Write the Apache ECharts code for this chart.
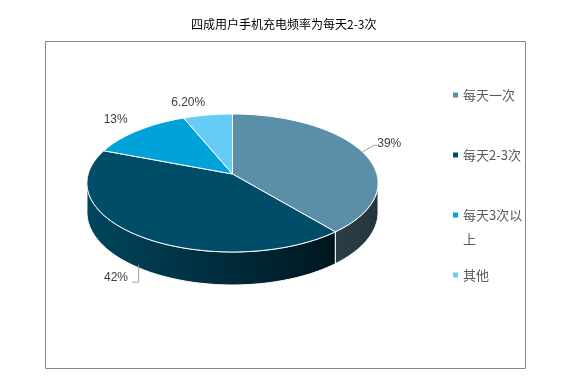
<!DOCTYPE html>
<html><head><meta charset="utf-8">
<script src="https://cdn.jsdelivr.net/npm/echarts@6/dist/echarts.min.js"></script>
<style>html,body{margin:0;padding:0;background:#fff}#c{width:578px;height:384px}</style>
</head><body><div id="c"></div>
<script>
const title = '四成用户手机充电频率为每天2-3次';
const categories = ['每天一次', '每天2-3次', '每天3次以上', '其他'];
const values = [39, 42, 13, 6.2];
const topColors = ['#5b8fa8', '#004d6a', '#00a2da', '#66ccf5'];
const sideFrom = ['#2d3e47', '#00465e', '#00769f', '#4a9cbb'];
const sideTo = ['#24343c', '#00161f', '#004a66', '#2f6f88'];

// pie geometry (layout)
const CX = 232.5, CY = 174, A = 144.3, B = 67.8, K = 0.1304, H = 28.7;
const PHI_L = Math.acos(-K), PHI_R = 2 * Math.PI - PHI_L;
const total = values.reduce((a, b) => a + b, 0);
const withLeader = new Set([0, 1]);

function proj(phi, r, depth) {
  const X = r * Math.sin(phi), Y = -r * Math.cos(phi);
  const d = 1 - K * Y;
  return [CX + A * X / d, CY + (B * Y + depth) / d];
}
function arc(a0, a1, depth) {
  const pts = [];
  const n = Math.max(2, Math.ceil(Math.abs(a1 - a0) / (Math.PI / 180)));
  for (let j = 0; j <= n; j++) pts.push(proj(a0 + (a1 - a0) * j / n, 1, depth));
  return pts;
}
function fmt(v) { return Number.isInteger(v) ? v + '%' : v.toFixed(2) + '%'; }

function renderItem(params, api) {
  const i = params.seriesIndex;
  let before = 0;
  for (let j = 0; j < i; j++) before += values[j];
  const v = api.value(0);
  const a0 = before / total * 2 * Math.PI;
  const a1 = (before + v) / total * 2 * Math.PI;
  const children = [];
  const w0 = Math.max(a0, PHI_L), w1 = Math.min(a1, PHI_R);
  if (w1 > w0) {
    const pts = arc(w0, w1, 0).concat(arc(w1, w0, H));
    children.push({
      type: 'polygon', shape: { points: pts },
      style: {
        fill: { type: 'linear', x: 0, y: 0, x2: 1, y2: 0,
          colorStops: [{ offset: 0, color: sideFrom[i] }, { offset: 1, color: sideTo[i] }] },
        stroke: '#ffffff', lineWidth: 1, lineJoin: 'round'
      }
    });
  }
  const top = [proj(0, 0, 0)].concat(arc(a0, a1, 0));
  children.push({
    type: 'polygon', shape: { points: top },
    style: { fill: topColors[i], stroke: '#ffffff', lineWidth: 1, lineJoin: 'round' }
  });
  const mid = (a0 + a1) / 2;
  const front = -Math.cos(mid) > 0.3;
  const right = Math.sin(mid) >= 0;
  const anchor = front ? proj(mid, 1, H) : proj(mid, 1, 0);
  let lp = front ? proj(mid, 1.1, H) : proj(mid, 1.12, 0);
  if (front) lp = [lp[0], lp[1] + 3];
  const lx = lp[0], ly = lp[1];
  if (withLeader.has(i)) {
    let lpts;
    if (front) lpts = [[anchor[0], anchor[1] - 3], [anchor[0], ly + 4], [lx + (right ? -4 : 4), ly + 4]];
    else lpts = [anchor, [lx + (right ? -3 : 3), ly - 4], [lx, ly - 4]];
    children.push({ type: 'polyline', shape: { points: lpts },
      style: { stroke: '#a0a0a0', lineWidth: 1, fill: null } });
  }
  children.push({
    type: 'text', x: lx, y: ly,
    style: { text: fmt(v), fill: '#404040', fontSize: 12, fontFamily: 'Liberation Sans, Arial',
      align: right ? 'left' : 'right', verticalAlign: front ? 'middle' : 'bottom' }
  });
  return { type: 'group', children };
}

const legendTops = [83, 143, 203, 263];
const chart = echarts.init(document.getElementById('c'));
chart.setOption({
  animation: false,
  title: { text: title, left: 191, top: 18, padding: 0,
    textStyle: { fontSize: 12, fontWeight: 'normal', color: '#000', fontFamily: 'Noto Sans CJK SC' } },
  legend: categories.map((n, i) => ({
    data: [n], orient: 'vertical', left: 453, top: legendTops[i], padding: 0,
    selectedMode: false,
    itemWidth: 5, itemHeight: i === 2 ? 48 : 5,
    icon: i === 2 ? 'path://M0,0h0.01v0.01h-0.01zM0,9.5h5v5h-5zM0,48h0.01v0.01h-0.01z' : 'rect',
    textStyle: Object.assign({ fontSize: 13, color: '#595959', fontFamily: 'Noto Sans CJK SC', lineHeight: 24 },
      i === 2 ? { width: 62, overflow: 'break' } : {})
  })),
  graphic: [{ type: 'rect', shape: { x: 45.5, y: 41.5, width: 480, height: 327 },
    style: { fill: null, stroke: '#868686', lineWidth: 1 }, silent: true }],
  series: categories.map((n, i) => ({
    type: 'custom', name: n, coordinateSystem: 'none',
    itemStyle: { color: topColors[i] },
    data: [[values[i]]],
    renderItem
  }))
});
</script></body></html>
